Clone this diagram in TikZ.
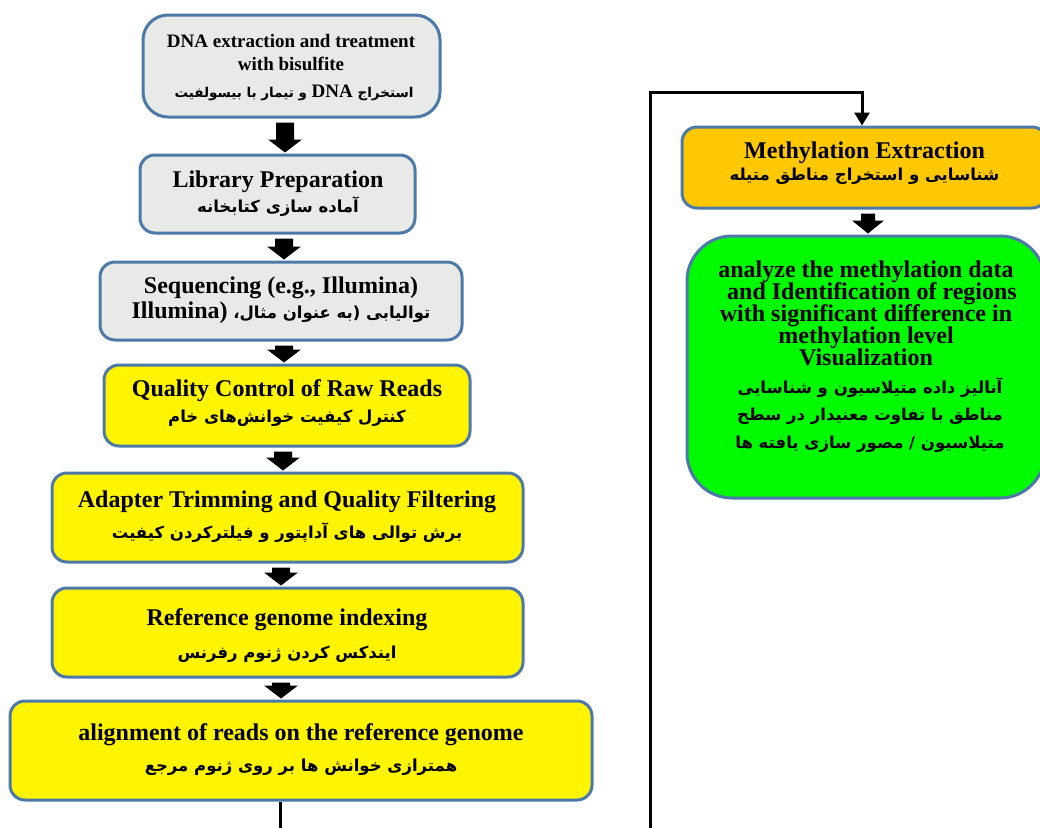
\documentclass[tikz,border=0pt]{standalone}
\usepackage{fontspec}
\setmainfont{Liberation Serif}
\newfontfamily\fafont[Script=Arabic]{DejaVu Sans}
\TeXXeTstate=1
\usetikzlibrary{calc,arrows.meta}
\definecolor{bord}{HTML}{4D79A8}
\definecolor{boxgray}{HTML}{E7EAE6}
\definecolor{boxyellow}{HTML}{FFF500}
\definecolor{boxorange}{HTML}{FFC800}
\definecolor{boxgreen}{HTML}{00FA00}
\newcommand\blockarr[5]{%
  \fill[black] let \p1=(#1.south), \p2=(#2.north) in
    ({#3pt-#4pt},{\y1-4pt}) -- ({#3pt+#4pt},{\y1-4pt}) -- ({#3pt+#4pt},{\y2+14pt})
    -- ({#3pt+#5pt},{\y2+14pt}) -- ({#3pt},{\y2+1pt}) -- ({#3pt-#5pt},{\y2+14pt})
    -- ({#3pt-#4pt},{\y2+14pt}) -- cycle;}
\begin{document}
\begin{tikzpicture}[x=1pt,y=-1pt,
  box/.style={draw=bord,line width=3pt,rounded corners=15pt,inner sep=0pt},
  gbox/.style={box,fill=boxgray},
  ybox/.style={box,fill=boxyellow},
  entxt/.style={font=\bfseries\fontsize{24}{22}\selectfont,anchor=base,inner sep=0pt},
  smalltxt/.style={font=\bfseries\fontsize{19}{22}\selectfont,anchor=base,inner sep=0pt},
  fatxt/.style={font=\fafont\bfseries\fontsize{16.5}{20}\selectfont,anchor=base,inner sep=0pt},
  fasmall/.style={font=\fafont\bfseries\fontsize{13.5}{16}\selectfont,anchor=base,inner sep=0pt},
  link/.style={line width=3pt}]
\useasboundingbox (0,0) rectangle (1040,827);
\clip (0,0) rectangle (1040,827);

% left column boxes
\node[gbox,rounded corners=25pt,minimum width=297,minimum height=102] (dna) at (291.5,66) {};
\node[gbox,minimum width=275,minimum height=78] (lib) at (277.5,194) {};
\node[gbox,minimum width=362,minimum height=78] (seq) at (281,301) {};
\node[ybox,minimum width=366,minimum height=81] (qc) at (287,405.5) {};
\node[ybox,minimum width=471,minimum height=89] (adapt) at (287.5,517.5) {};
\node[ybox,minimum width=471,minimum height=89] (ref) at (287.5,632.5) {};
\node[ybox,minimum width=582,minimum height=99] (align) at (301,750.5) {};

% right column boxes
\node[box,fill=boxorange,minimum width=365,minimum height=81] (meth) at (864.5,167.5) {};
\node[box,fill=boxgreen,rounded corners=45pt,minimum width=358,minimum height=262] (green) at (866,367) {};

% texts
\node[smalltxt] (dna1) at (291,47) {DNA extraction and treatment};
\node[smalltxt] (dna2) at (291,70) {with bisulfite};
\node[fasmall] (dna3) at (294,97) {\beginR استخراج \beginL{\rmfamily\fontsize{19}{22}\selectfont DNA}\endL{} و تیمار با بیسولفیت\endR};

\node[entxt] (lib1) at (278,187) {Library Preparation};
\node[fatxt] (lib2) at (278,212) {\beginR آماده سازی کتابخانه\endR};

\node[entxt] (seq1) at (281,293) {Sequencing (e.g., Illumina)};
\node[fatxt] (seq2) at (281,318) {\beginR توالیابی (به عنوان مثال، \beginL{\rmfamily\fontsize{24}{22}\selectfont Illumina)}\endL\endR};

\node[entxt] (qc1) at (287,396) {Quality Control of Raw Reads};
\node[fatxt] (qc2) at (287,422) {\beginR کنترل کیفیت خوانش‌های خام\endR};

\node[entxt] (ad1) at (287,507) {Adapter Trimming and Quality Filtering};
\node[fatxt] (ad2) at (287,538) {\beginR برش توالی های آداپتور و فیلترکردن کیفیت\endR};

\node[entxt] (ref1) at (287,625) {Reference genome indexing};
\node[fatxt] (ref2) at (287,658) {\beginR ایندکس کردن ژنوم رفرنس\endR};

\node[entxt] (al1) at (301,740) {alignment of reads on the reference genome};
\node[fatxt] (al2) at (301,771) {\beginR همترازی خوانش ها بر روی ژنوم مرجع\endR};

\node[entxt] (m1) at (864.5,158) {Methylation Extraction};
\node[fatxt] (m2) at (864.5,180) {\beginR شناسایی و استخراج مناطق متیله\endR};

\node[entxt] (g1) at (866,277) {analyze the methylation data};
\node[entxt] (g2) at (872,299) {and Identification of regions};
\node[entxt] (g3) at (866,321) {with significant difference in};
\node[entxt] (g4) at (866,343) {methylation level};
\node[entxt] (g5) at (866,365) {Visualization};
\node[fatxt] (g6) at (870,393) {\beginR آنالیز داده متیلاسیون و شناسایی\endR};
\node[fatxt] (g7) at (870,420) {\beginR مناطق با تفاوت معنیدار در سطح\endR};
\node[fatxt] (g8) at (870,448) {\beginR متیلاسیون / مصور سازی یافته ها\endR};

% block arrows
\blockarr{dna}{lib}{285}{9}{17}
\blockarr{lib}{seq}{284}{9}{17}
\blockarr{seq}{qc}{284}{9}{17}
\blockarr{qc}{adapt}{283}{9}{17}
\blockarr{adapt}{ref}{281}{9}{17}
\blockarr{ref}{align}{281}{9}{17}
\blockarr{meth}{green}{868}{7}{16}

% long connector
\coordinate (low1) at (280,845);
\coordinate (low2) at (650,845);
\coordinate (top1) at (650,92);
\draw[link,-{Triangle[width=15pt,length=13pt]}]
  ($(align.south)+(-21,0)$) -- (low1) -- (low2) -- (top1) -| ($(meth.north)+(-2.5,0)$);
\end{tikzpicture}
\end{document}
